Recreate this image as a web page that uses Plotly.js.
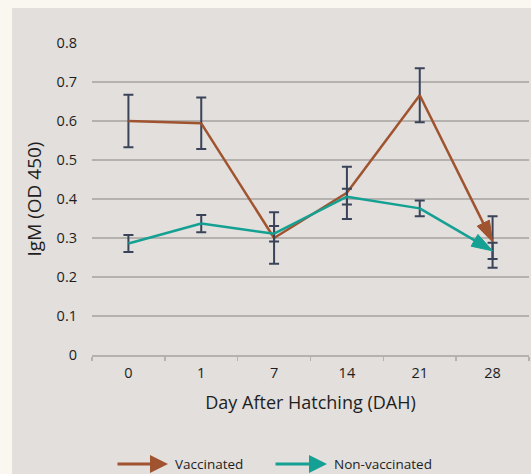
<!DOCTYPE html>
<html>
<head>
<meta charset="utf-8">
<script src="https://cdn.plot.ly/plotly-3.0.1.min.js"></script>
<style>html,body{margin:0;padding:0;background:#faf6f0;}#chart{width:531px;height:474px;}</style>
</head>
<body>
<div id="chart"></div>
<script>
const days = ['0', '1', '7', '14', '21', '28'];
const vaccinated = [0.600, 0.594, 0.300, 0.416, 0.666, 0.290];
const vaccinatedErr = [0.067, 0.066, 0.066, 0.067, 0.069, 0.066];
const nonVaccinated = [0.286, 0.337, 0.311, 0.406, 0.376, 0.267];
const nonVaccinatedErr = [0.022, 0.022, 0.020, 0.020, 0.020, 0.021];
const seriesNames = ['Vaccinated', 'Non-vaccinated'];
const yTickVals = [0, 0.1, 0.2, 0.3, 0.4, 0.5, 0.6, 0.7, 0.8];
const yTickText = ['0', '0.1', '0.2', '0.3', '0.4', '0.5', '0.6', '0.7', '0.8'];

const vacColor = '#a0532f';
const nonColor = '#14a193';
const errColor = '#3a4357';
const gridColor = '#b4b1af';

const arrowSymbols = days.map((d, i) => i === days.length - 1 ? 'arrow' : 'circle');
const arrowSizes = days.map((d, i) => i === days.length - 1 ? 22 : 0);

function trace(y, err, color, name) {
  return {
    x: days, y: y, name: name, type: 'scatter', mode: 'lines+markers',
    line: {color: color, width: 2.5},
    marker: {symbol: arrowSymbols, size: arrowSizes, angleref: 'previous', color: color, opacity: 1,
             line: {width: 1, color: color}},
    error_y: {type: 'data', array: err, visible: true, color: errColor, thickness: 2, width: 5},
    showlegend: false, hoverinfo: 'skip'
  };
}

const data = [
  trace(vaccinated, vaccinatedErr, vacColor, seriesNames[0]),
  trace(nonVaccinated, nonVaccinatedErr, nonColor, seriesNames[1])
];

const font = '"Open Sans", "Noto Sans", sans-serif';
const W = 437, H = 312, L = 92, T = 43;
function px(x) { return (x - L) / W; }
function py(y) { return (T + H - y) / H; }

const layout = {
  width: 531, height: 474,
  margin: {l: L, r: 531 - L - W, t: T, b: 474 - T - H},
  paper_bgcolor: '#faf6f0',
  plot_bgcolor: 'rgba(0,0,0,0)',
  font: {family: font, color: '#1e1e1e', size: 14},
  showlegend: false,
  xaxis: {
    type: 'category', range: [-0.5, 5.5],
    showgrid: false, zeroline: false,
    showline: true, linecolor: gridColor, linewidth: 1.5,
    ticks: 'outside', tickson: 'boundaries', ticklen: 4, tickcolor: gridColor, tickwidth: 1.5,
    tickfont: {size: 14.5},
    ticklabelstandoff: 4,
    title: {text: 'Day After Hatching (DAH)', font: {size: 18}, standoff: 15}
  },
  yaxis: {
    range: [0, 0.8], tickvals: yTickVals, ticktext: yTickText,
    showgrid: true, gridcolor: gridColor, gridwidth: 1.5,
    zeroline: false, showline: false, ticks: '',
    tickfont: {size: 14.5},
    ticklabelstandoff: 14,
    title: {text: 'IgM (OD 450)', font: {size: 19}, standoff: 9}
  },
  shapes: [{
    type: 'rect', xref: 'paper', yref: 'paper', layer: 'below',
    x0: px(12), x1: px(540), y0: py(480), y1: py(8),
    fillcolor: '#e2dfdc', line: {width: 0}
  }],
  annotations: [
    {xref: 'paper', yref: 'paper', x: px(168), y: py(464), ax: -52, ay: 0, showarrow: true,
     arrowhead: 2, arrowsize: 1.2, arrowwidth: 3, arrowcolor: vacColor, text: ''},
    {xref: 'paper', yref: 'paper', x: px(173), y: py(464), xanchor: 'left', yanchor: 'middle',
     showarrow: false, text: seriesNames[0], font: {size: 13.5}},
    {xref: 'paper', yref: 'paper', x: px(327), y: py(464), ax: -53, ay: 0, showarrow: true,
     arrowhead: 2, arrowsize: 1.2, arrowwidth: 3, arrowcolor: nonColor, text: ''},
    {xref: 'paper', yref: 'paper', x: px(332), y: py(464), xanchor: 'left', yanchor: 'middle',
     showarrow: false, text: seriesNames[1], font: {size: 13.5}}
  ]
};

Plotly.newPlot('chart', data, layout, {displayModeBar: false, staticPlot: true});
</script>
</body>
</html>
